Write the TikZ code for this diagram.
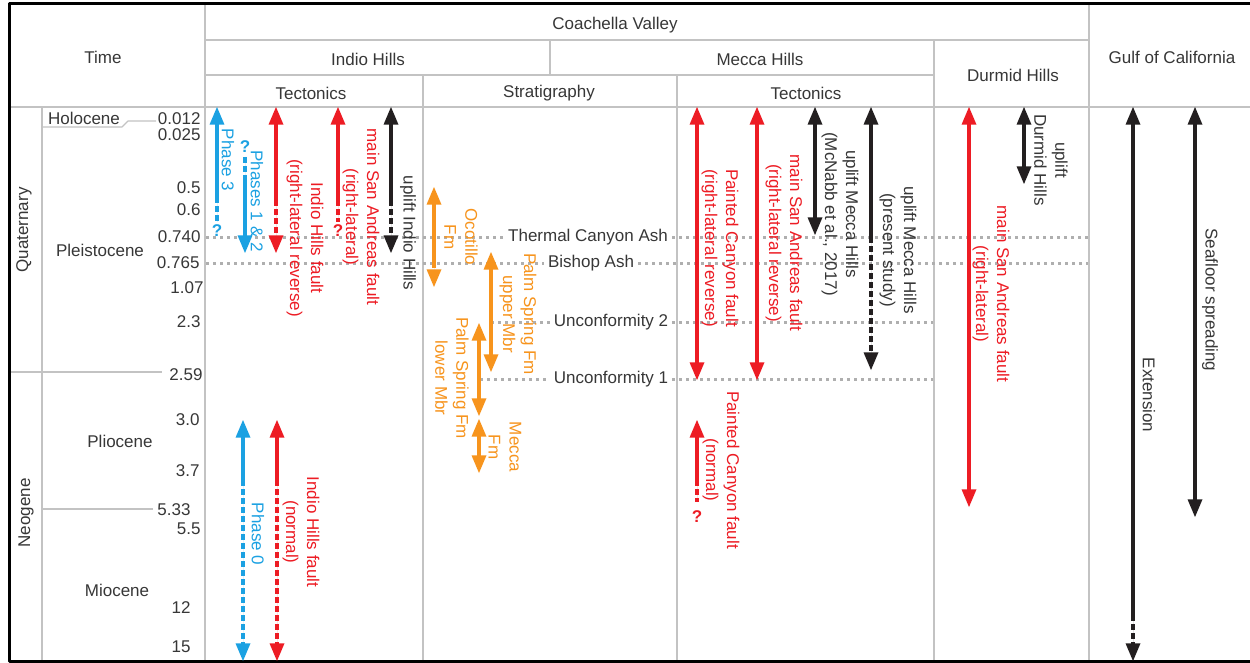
\documentclass[tikz,border=0pt]{standalone}
\usepackage{fontspec}
\setmainfont{Liberation Sans}
\usepackage{tikz}
\usetikzlibrary{arrows}

\definecolor{phaseblue}{RGB}{27,161,226}
\definecolor{faultred}{RGB}{237,28,36}
\definecolor{fmorange}{RGB}{247,148,29}
\definecolor{upblack}{RGB}{35,31,32}
\definecolor{txtgray}{RGB}{55,55,55}
\definecolor{linegray}{RGB}{195,195,195}
\definecolor{ashgray}{RGB}{175,175,175}

\tikzset{
  gridline/.style={draw=linegray,line width=1.2pt},
  ashline/.style={draw=ashgray,line width=3pt,dash pattern=on 3pt off 4pt},
  dsh/.style={dash pattern=on 6pt off 3pt},
  bluearr/.style={draw=phaseblue,fill=phaseblue,line width=3.2pt},
  redarr/.style={draw=faultred,fill=faultred,line width=3.2pt},
  orgarr/.style={draw=fmorange,fill=fmorange,line width=3.2pt},
  blkarr/.style={draw=upblack,fill=upblack,line width=3.2pt},
  hdr/.style={text=txtgray},
  tick/.style={text=txtgray,anchor=east},
  vlab/.style={rotate=-90,align=center,inner sep=0pt},
  qmark/.style={font=\fontsize{17}{21}\selectfont\bfseries,inner sep=0pt}
}

\begin{document}
\begin{tikzpicture}[line cap=butt,line join=round,>=triangle 45,x=1pt,y=-1pt,
  every node/.append style={font=\fontsize{17}{21}\selectfont}]
\useasboundingbox (0,0) rectangle (1250,663);
\fill[white] (0,0) rectangle (1250,663);

% table frame
\draw[gridline] (205,5) -- (205,661);
\draw[gridline] (1089,5) -- (1089,661);
\draw[gridline] (205,40) -- (1089,40);
\draw[gridline] (205,75) -- (934,75);
\draw[gridline] (550,40) -- (550,75);
\draw[gridline] (934,40) -- (934,661);
\draw[gridline] (8,107) -- (1250,107);
\draw[gridline] (423,75) -- (423,661);
\draw[gridline] (677,75) -- (677,661);
\draw[gridline] (42,107) -- (42,661);
\draw[gridline] (8,372) -- (162,372);
\draw[gridline] (42,509) -- (153,509);
\draw[gridline] (42,127) -- (122,127) -- (128,121) -- (156,121);
\draw[line width=3pt] (1250,4) -- (9,4) -- (9,661) -- (1250,661);

% headers
\node[hdr] (time) at (103,57) {Time};
\node[hdr] (cv) at (615,25) {Coachella Valley};
\node[hdr] (ih) at (368,59) {Indio Hills};
\node[hdr] (mh) at (760,59) {Mecca Hills};
\node[hdr] (ihtec) at (311,93) {Tectonics};
\node[hdr] (strat) at (549,93) {Stratigraphy};
\node[hdr] (mhtec) at (806,93) {Tectonics};
\node[hdr] (dh) at (1013,75) {Durmid Hills};
\node[hdr] (gc) at (1172,57) {Gulf of California};

% time scale
\node[hdr,rotate=90] (quat) at (24,230) {Quaternary};
\node[hdr,rotate=90] (neo) at (26,513) {Neogene};
\node[hdr] (holo) at (84,118) {Holocene};
\node[hdr] (pleis) at (100,250) {Pleistocene};
\node[hdr] (plio) at (120,441) {Pliocene};
\node[hdr] (mio) at (117,590) {Miocene};
\node[tick] (t1) at (204,119) {0.012};
\node[tick] (t2) at (204,135) {0.025};
\node[tick] (t3) at (204,188) {0.5};
\node[tick] (t4) at (204,210) {0.6};
\node[tick] (t5) at (204,237) {0.740};
\node[tick] (t6) at (203,263) {0.765};
\node[tick] (t7) at (207,288) {1.07};
\node[tick] (t8) at (204,322) {2.3};
\node[tick] (t9) at (206,375) {2.59};
\node[tick] (t10) at (203,420) {3.0};
\node[tick] (t11) at (203,471) {3.7};
\node[tick] (t12) at (194,510) {5.33};
\node[tick] (t13) at (204,529) {5.5};
\node[tick] (t14) at (194,608) {12};
\node[tick] (t15) at (194,647) {15};

% marker horizons
\node[hdr,inner sep=4pt] (tca) at (588,237) {Thermal Canyon Ash};
\node[hdr,inner sep=4pt] (bish) at (591,263) {Bishop Ash};
\node[hdr,inner sep=4pt] (unc2) at (611,322) {Unconformity 2};
\node[hdr,inner sep=4pt] (unc1) at (611,379) {Unconformity 1};
\draw[ashline] (206,237) -- (tca.west);
\draw[ashline] (tca.east) -- (1088,237);
\draw[ashline] (206,263) -- (bish.west);
\draw[ashline] (bish.east) -- (1088,263);
\draw[ashline] (491,322) -- (unc2.west);
\draw[ashline] (unc2.east) -- (933,322);
\draw[ashline] (480,379) -- (unc1.west);
\draw[ashline] (unc1.east) -- (933,379);

% Indio Hills tectonics
\draw[bluearr,<-] (217,107) -- (217,197);
\draw[bluearr,dsh] (217,197) -- (217,222);
\node[qmark,text=phaseblue] (q3) at (217,231) {?};
\node[vlab,text=phaseblue] (ph3) at (228,160) {Phase 3};
\node[qmark,text=phaseblue] (q12) at (245,147) {?};
\draw[bluearr,dsh] (245,157) -- (245,177);
\draw[bluearr,->] (245,177) -- (245,253);
\node[vlab,text=phaseblue] (ph12) at (257,201) {Phases 1 \& 2};
\draw[redarr,<-] (276,107) -- (276,200);
\draw[redarr,dsh,->] (276,200) -- (276,253);
\node[vlab,text=faultred] (ihf) at (305,238) {Indio Hills fault\\(right-lateral reverse)};
\draw[redarr,<-] (338,107) -- (338,200);
\draw[redarr,dsh] (338,200) -- (338,222);
\node[qmark,text=faultred] (qsaf) at (338,231) {?};
\node[vlab,text=faultred] (ihsaf) at (361,217) {main San Andreas fault\\(right-lateral)};
\draw[blkarr,<-] (391,107) -- (391,200);
\draw[blkarr,dsh,->] (391,200) -- (391,253);
\node[vlab,text=txtgray] (upih) at (408,233) {uplift Indio Hills};
\draw[bluearr,<-] (243,420) -- (243,480);
\draw[bluearr,dsh,->] (243,480) -- (243,661);
\node[vlab,text=phaseblue] (ph0) at (258,534) {Phase 0};
\draw[redarr,<-] (277,420) -- (277,480);
\draw[redarr,dsh,->] (277,480) -- (277,661);
\node[vlab,text=faultred] (ihn) at (301,532) {Indio Hills fault\\(normal)};

% stratigraphy
\draw[orgarr,dsh,<-] (434,187) -- (434,202);
\draw[orgarr] (434,202) -- (434,262);
\draw[orgarr,dsh,->] (434,262) -- (434,287);
\node[vlab,text=fmorange] (oco) at (461,237) {Ocotillo\\Fm};
\draw[orgarr,<->] (491,252) -- (491,372);
\node[vlab,text=fmorange] (psu) at (518,314) {Palm Spring Fm\\upper Mbr};
\draw[orgarr,<->] (479,323) -- (479,416);
\node[vlab,text=fmorange] (psl) at (452,378) {Palm Spring Fm\\lower Mbr};
\draw[orgarr,<->] (479,419) -- (479,473);
\node[vlab,text=fmorange] (mec) at (505,447) {Mecca\\Fm};

% Mecca Hills tectonics
\draw[redarr,<->] (697,107) -- (697,380);
\node[vlab,text=faultred] (pcf) at (720,248) {Painted Canyon fault\\(right-lateral reverse)};
\draw[redarr,<->] (757,107) -- (757,380);
\node[vlab,text=faultred] (mhsaf) at (784,243) {main San Andreas fault\\(right-lateral reverse)};
\draw[blkarr,<->] (815,107) -- (815,235);
\node[vlab,text=txtgray] (upmn) at (840,214) {uplift Mecca Hills\\(McNabb et al., 2017)};
\draw[blkarr,<-] (871,107) -- (871,237);
\draw[blkarr,dsh,->] (871,237) -- (871,370);
\node[vlab,text=txtgray] (upmp) at (898,250) {uplift Mecca Hills\\(present study)};
\draw[redarr,<-] (697,420) -- (697,480);
\draw[redarr,dsh] (697,480) -- (697,502);
\node[qmark,text=faultred] (qpc) at (697,517) {?};
\node[vlab,text=faultred] (pcn) at (721,470) {Painted Canyon fault\\(normal)};

% Durmid Hills
\draw[redarr,<->] (969,107) -- (969,507);
\node[vlab,text=faultred] (dhsaf) at (991,294) {main San Andreas fault\\(right-lateral)};
\draw[blkarr,<->] (1024,107) -- (1024,184);
\node[vlab,text=txtgray] (updh) at (1051,160) {uplift\\Durmid Hills};

% Gulf of California
\draw[blkarr,<-] (1133,107) -- (1133,615);
\draw[blkarr,dsh,->] (1133,615) -- (1133,661);
\node[vlab,text=txtgray] (ext) at (1149,395) {Extension};
\draw[blkarr,<->] (1195,107) -- (1195,517);
\node[vlab,text=txtgray] (sfs) at (1210,300) {Seafloor spreading};
\end{tikzpicture}
\end{document}
